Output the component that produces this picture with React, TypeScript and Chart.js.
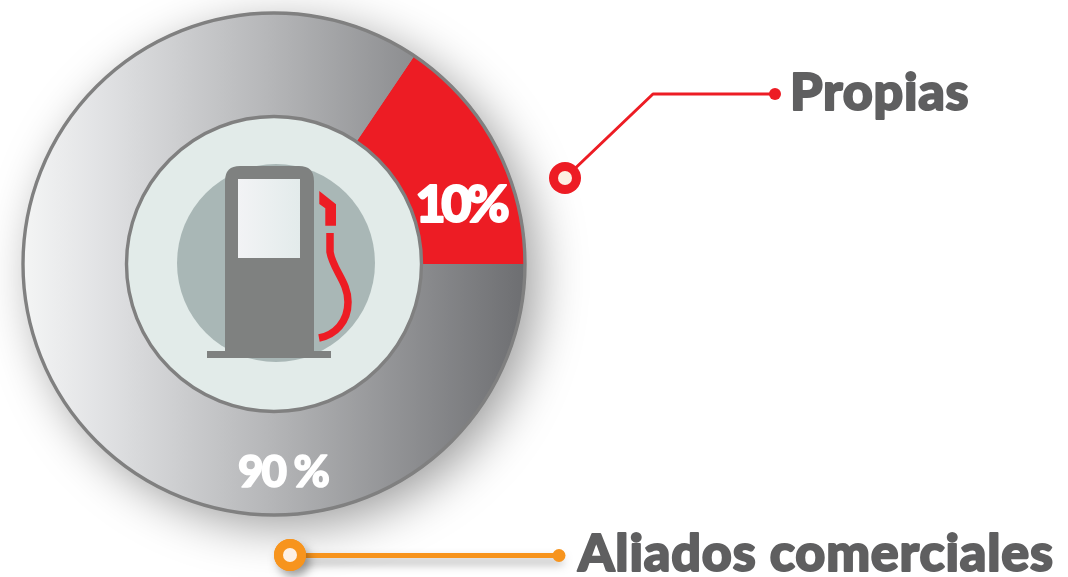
import React, { useEffect, useRef } from "react";
import { Chart, registerables } from "chart.js";

Chart.register(...registerables);

const categories = ["Propias", "Aliados comerciales"];
const printedShares = ["10%", "90 %"];
// Printed figures say 10 / 90, but the reference's red sector spans about 56 degrees.
const drawnShares = [15.55, 84.45];
const startAngle = 34;

const RED = "#ed1c24";
const ORANGE = "#f7941d";
const OUTLINE = "#808080";
const TEXT = "#5f5f60";
const FONT = 'Lato, "Noto Sans", sans-serif';

function pump(ctx: CanvasRenderingContext2D) {
  ctx.fillStyle = "#a9b7b6";
  ctx.beginPath();
  ctx.arc(276, 263, 99, 0, Math.PI * 2);
  ctx.fill();

  ctx.fillStyle = "#7f8180";
  ctx.beginPath();
  ctx.moveTo(225, 351);
  ctx.lineTo(225, 181);
  ctx.quadraticCurveTo(225, 166, 240, 166);
  ctx.lineTo(299, 166);
  ctx.quadraticCurveTo(314, 166, 314, 181);
  ctx.lineTo(314, 351);
  ctx.closePath();
  ctx.fill();
  ctx.fillRect(207, 351, 124, 7);

  const g = ctx.createLinearGradient(238, 0, 300, 0);
  g.addColorStop(0, "#f2f3f5");
  g.addColorStop(1, "#e3ebeb");
  ctx.fillStyle = g;
  ctx.fillRect(238, 179, 62, 79);

  ctx.fillStyle = RED;
  ctx.beginPath();
  ctx.moveTo(319.3, 191);
  ctx.lineTo(336, 204.3);
  ctx.lineTo(336, 225.7);
  ctx.lineTo(325.3, 225.7);
  ctx.lineTo(325.3, 208.3);
  ctx.lineTo(319.3, 204);
  ctx.closePath();
  ctx.fill();

  ctx.strokeStyle = RED;
  ctx.lineWidth = 7.5;
  ctx.beginPath();
  ctx.moveTo(330, 233);
  ctx.lineTo(330, 252);
  ctx.bezierCurveTo(333, 270, 348, 282, 348, 302);
  ctx.bezierCurveTo(348, 322, 335, 335, 319, 338);
  ctx.stroke();
}

function marker(ctx: CanvasRenderingContext2D, x: number, y: number, color: string) {
  ctx.fillStyle = color;
  ctx.beginPath();
  ctx.arc(x, y, 16, 0, Math.PI * 2);
  ctx.fill();
  ctx.fillStyle = "#fdf0e4";
  ctx.beginPath();
  ctx.arc(x, y, 7, 0, Math.PI * 2);
  ctx.fill();
}

function dot(ctx: CanvasRenderingContext2D, x: number, y: number, r: number, color: string) {
  ctx.fillStyle = color;
  ctx.beginPath();
  ctx.arc(x, y, r, 0, Math.PI * 2);
  ctx.fill();
}

function label(ctx: CanvasRenderingContext2D, s: string, x: number, y: number, size: number, color: string, spacing: string, weight: number) {
  ctx.font = `900 ${size}px ${FONT}`;
  (ctx as any).letterSpacing = spacing;
  ctx.textAlign = "left";
  ctx.textBaseline = "alphabetic";
  ctx.lineJoin = "round";
  ctx.fillStyle = color;
  ctx.strokeStyle = color;
  ctx.lineWidth = weight;
  ctx.strokeText(s, x, y);
  ctx.fillText(s, x, y);
  (ctx as any).letterSpacing = "0px";
}

const decorations = {
  id: "decorations",
  beforeDatasetsDraw(chart: any) {
    const arc = chart.getDatasetMeta(0).data[0];
    const ctx: CanvasRenderingContext2D = chart.ctx;
    ctx.save();
    ctx.shadowColor = "rgba(0,0,0,0.4)";
    ctx.shadowBlur = 50;
    ctx.shadowOffsetX = 12;
    ctx.shadowOffsetY = 12;
    ctx.fillStyle = "#999";
    ctx.beginPath();
    ctx.arc(arc.x, arc.y, arc.outerRadius - 2, 0, Math.PI * 2);
    ctx.fill();
    ctx.restore();
  },
  afterDatasetsDraw(chart: any) {
    const arc = chart.getDatasetMeta(0).data[0];
    const ctx: CanvasRenderingContext2D = chart.ctx;
    ctx.save();
    ctx.strokeStyle = OUTLINE;
    ctx.lineWidth = 3.4;
    ctx.beginPath();
    ctx.arc(arc.x, arc.y, arc.outerRadius - 1, 0, Math.PI * 2);
    ctx.stroke();

    ctx.fillStyle = "#e2ebe9";
    ctx.beginPath();
    ctx.arc(arc.x, arc.y, arc.innerRadius - 0.5, 0, Math.PI * 2);
    ctx.fill();
    ctx.stroke();

    pump(ctx);

    label(ctx, printedShares[0], 415.5, 222, 52, "#ffffff", "-4.5px", 2);
    label(ctx, printedShares[1], 238, 487, 44, "#ffffff", "-2px", 1.6);

    // Propias leader
    ctx.strokeStyle = RED;
    ctx.lineWidth = 3;
    ctx.beginPath();
    ctx.moveTo(565, 178);
    ctx.lineTo(653, 94);
    ctx.lineTo(775, 94);
    ctx.stroke();
    marker(ctx, 565, 178, RED);
    dot(ctx, 775, 94, 6, RED);

    // Aliados leader
    ctx.save();
    ctx.shadowColor = "rgba(0,0,0,0.35)";
    ctx.shadowBlur = 10;
    ctx.shadowOffsetX = 4;
    ctx.shadowOffsetY = 6;
    ctx.fillStyle = ORANGE;
    ctx.fillRect(290, 553, 269, 5);
    dot(ctx, 290, 555, 16, ORANGE);
    ctx.restore();
    marker(ctx, 290, 555, ORANGE);
    dot(ctx, 559, 555.5, 6.5, ORANGE);

    label(ctx, categories[0], 790, 110, 52, TEXT, "0.75px", 2);
    label(ctx, categories[1], 578, 571, 52, TEXT, "0.85px", 2);
    ctx.restore();
  },
};

export default function App() {
  const ref = useRef<HTMLCanvasElement | null>(null);
  useEffect(() => {
    document.body.style.margin = "0";
    const canvas = ref.current!;
    const chart = new Chart(canvas, {
      type: "doughnut",
      data: {
        labels: categories,
        datasets: [
          {
            data: drawnShares,
            borderWidth: 0,
            backgroundColor: (c: any) => {
              if (c.dataIndex === 0) return RED;
              const g = c.chart.ctx.createLinearGradient(22, 0, 526, 0);
              g.addColorStop(0, "#f4f5f5");
              g.addColorStop(0.15, "#e2e3e5");
              g.addColorStop(0.5, "#b4b5b7");
              g.addColorStop(1, "#6d6e71");
              return g;
            },
          },
        ],
      },
      options: {
        responsive: false,
        animation: false,
        cutout: 148,
        rotation: startAngle,
        layout: { padding: { left: 22, top: 12, right: 542, bottom: 61 } },
        plugins: { legend: { display: false }, tooltip: { enabled: false } },
      },
      plugins: [decorations],
    } as any);
    return () => chart.destroy();
  }, []);
  return <canvas ref={ref} width={1068} height={577} style={{ display: "block" }} />;
}
